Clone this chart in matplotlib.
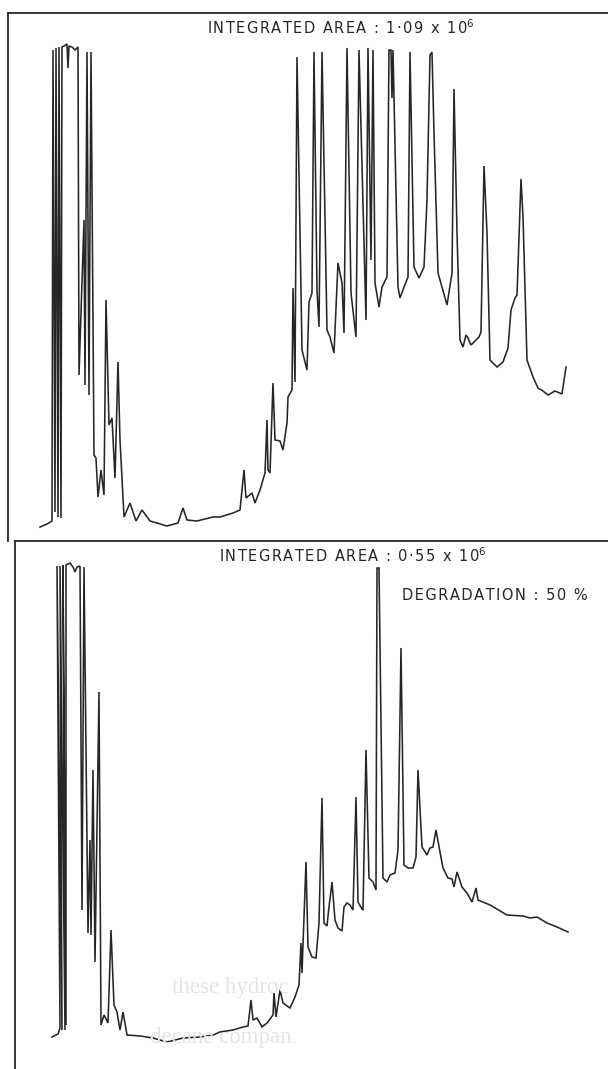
import matplotlib
matplotlib.use("Agg")
import matplotlib.pyplot as plt

# retention (min) and detector response (% of full scale), undegraded sample
t_before = [4.0, 4.7, 5.2, 5.3, 5.5, 5.6, 5.8, 5.9, 6.1, 6.2, 6.4, 6.7, 6.8, 6.9, 7.2, 7.5, 7.8,
            7.9, 8.4, 8.5, 8.7, 8.9, 9.1, 9.4, 9.6, 9.8, 10.1, 10.4, 10.6, 10.9, 11.2, 11.5,
            11.8, 12.0, 12.4, 13.0, 13.6, 14.2, 15.0, 15.7, 16.7, 17.8, 18.3, 18.7, 19.7,
            21.3, 22.0, 23.3, 24.0, 24.4, 24.6, 25.2, 25.5, 26.0, 26.5, 26.7, 26.8, 27.0,
            27.3, 27.5, 28.0, 28.3, 28.7, 28.8, 29.2, 29.3, 29.5, 29.7, 30.2, 30.7, 30.9,
            31.2, 31.4, 31.7, 31.9, 32.2, 32.7, 33.0, 33.4, 33.8, 34.2, 34.4, 34.7, 35.1,
            35.6, 35.9, 36.6, 36.8, 37.1, 37.3, 37.5, 37.9, 38.2, 38.7, 38.9, 39.1, 39.2,
            39.3, 39.8, 40.0, 40.4, 40.8, 41.0, 41.4, 41.9, 42.4, 42.7, 43.0, 43.2, 43.4,
            43.8, 44.2, 44.7, 45.2, 45.4, 45.7, 46.0, 46.3, 46.6, 46.8, 47.1, 47.9, 48.1,
            48.4, 48.7, 49.0, 49.7, 50.3, 50.8, 51.1, 51.5, 51.7, 52.1, 52.3, 52.7, 53.3,
            53.8, 54.3, 54.8, 55.5, 56.2, 56.6]
r_before = [2.6, 3.2, 3.8, 98.0, 5.6, 98.4, 4.6, 98.6, 4.4, 98.6, 98.8, 99.2, 94.4, 98.8, 98.6,
            98.0, 98.6, 33.0, 64.0, 31.0, 97.6, 29.0, 97.6, 17.0, 16.4, 8.6, 14.0, 9.0, 48.0,
            23.0, 24.4, 12.4, 35.6, 20.0, 4.6, 7.4, 3.8, 6.0, 3.8, 3.4, 2.8, 3.4, 6.4, 4.0,
            3.8, 4.6, 4.6, 5.4, 6.0, 14.0, 8.4, 9.4, 7.4, 10.0, 13.4, 24.0, 14.0, 13.4, 31.4,
            20.0, 19.8, 18.0, 23.4, 28.6, 30.0, 50.4, 31.6, 96.6, 38.0, 34.0, 47.6, 49.4,
            97.6, 50.0, 42.6, 97.6, 42.0, 40.6, 37.4, 55.4, 51.4, 41.4, 98.4, 49.4, 40.6,
            98.0, 44.0, 98.4, 56.0, 98.0, 51.4, 46.6, 50.6, 52.6, 98.0, 98.0, 88.4, 98.0,
            50.6, 48.4, 50.6, 52.6, 97.6, 54.6, 52.4, 54.6, 68.0, 97.0, 97.6, 81.4, 53.4,
            50.6, 47.0, 53.4, 90.2, 61.4, 40.0, 38.6, 41.0, 40.4, 39.0, 40.6, 41.6, 74.8,
            61.4, 36.0, 34.6, 35.6, 38.4, 46.0, 48.4, 49.0, 72.2, 64.6, 36.0, 32.6, 30.4,
            29.8, 29.0, 29.8, 29.2, 34.6]

# same oil after degradation
t_after = [5.2, 5.8, 6.0, 5.7, 6.2, 6.0, 6.5, 6.3, 6.6, 6.6, 7.0, 7.3, 7.5, 7.7, 8.0, 8.2, 8.4,
           8.8, 9.0, 9.1, 9.3, 9.5, 9.9, 10.1, 10.4, 10.8, 11.1, 11.4, 11.7, 12.0, 12.3, 12.7,
           14.0, 15.3, 16.7, 18.3, 20.0, 21.3, 22.0, 23.3, 24.3, 24.8, 25.1, 25.3, 25.7, 26.2,
           26.7, 27.3, 27.4, 27.6, 28.0, 28.3, 29.0, 29.5, 29.9, 30.1, 30.2, 30.3, 30.6, 30.8,
           31.2, 31.6, 31.9, 32.2, 32.4, 32.7, 32.9, 33.2, 33.5, 33.8, 34.2, 34.4, 34.7, 35.0,
           35.3, 35.6, 35.8, 36.2, 36.3, 36.6, 36.9, 37.3, 37.6, 37.7, 37.9, 38.3, 38.7, 39.0,
           39.5, 39.8, 40.1, 40.4, 40.8, 41.3, 41.6, 41.8, 42.2, 42.7, 43.0, 43.3, 43.6, 44.0,
           44.3, 44.8, 45.2, 45.4, 45.7, 46.2, 46.7, 47.2, 47.6, 47.8, 49.0, 50.7, 52.3, 53.0,
           53.7, 54.7, 55.7, 56.8]
r_after = [4.6, 5.2, 6.4, 98.8, 6.0, 98.8, 6.0, 99.0, 7.0, 99.0, 99.4, 98.6, 97.6, 98.6, 98.8,
           30.0, 98.6, 25.4, 44.0, 25.0, 58.0, 19.6, 73.6, 7.0, 9.0, 7.4, 26.0, 11.0, 9.6, 6.0,
           9.6, 5.0, 4.8, 4.4, 3.6, 4.4, 4.6, 5.0, 5.6, 6.0, 6.6, 6.8, 12.0, 8.0, 8.4, 6.6,
           7.4, 9.0, 13.4, 8.6, 14.0, 11.4, 10.4, 12.6, 15.0, 23.4, 17.4, 23.0, 39.6, 22.6,
           20.6, 20.4, 27.4, 52.4, 27.4, 26.8, 30.6, 35.6, 28.0, 26.4, 25.8, 30.6, 31.4, 31.0,
           30.0, 52.6, 31.6, 30.2, 30.0, 62.0, 36.4, 35.6, 34.0, 98.4, 98.4, 36.4, 35.6, 37.0,
           37.4, 42.0, 82.4, 39.0, 38.4, 38.4, 40.6, 58.0, 42.6, 41.0, 42.4, 42.6, 46.0, 41.6,
           38.4, 36.4, 36.2, 34.6, 37.6, 34.6, 33.4, 31.6, 34.4, 32.0, 31.0, 29.0, 28.8, 28.4,
           28.6, 27.4, 26.6, 25.6]

area_before = ("1·09 x 10", "6")
area_after = ("0·55 x 10", "6")
degradation = "50 %"

ink = "#262626"


def spaced(s):
    # wide lettering, as on a drafting template
    return "\u200a".join(s)


def area_label(value):
    mantissa, exponent = value
    return spaced("INTEGRATED AREA : " + mantissa) + r"$^{" + exponent + "}$"


fig = plt.figure(figsize=(6.08, 10.69), dpi=100)
fig.patch.set_facecolor("white")

ax1 = fig.add_axes([8 / 608, 528 / 1069, 599 / 608, 528 / 1069])
ax2 = fig.add_axes([15 / 608, 0, 593 / 608, 528 / 1069])

ax1.plot(t_before, r_before, color=ink, lw=1.15, solid_joinstyle="miter")
ax2.plot(t_after, r_after, color=ink, lw=1.15, solid_joinstyle="miter")

ax1.set_xlim(0.8, 60.7)
ax1.set_ylim(-0.2, 105.4)
ax2.set_xlim(1.5, 60.8)
ax2.set_ylim(-1.8, 103.8)

for ax in (ax1, ax2):
    ax.set_xticks([])
    ax.set_yticks([])
    ax.set_facecolor("none")
    for side in ("right", "bottom"):
        ax.spines[side].set_visible(False)
    for side in ("top", "left"):
        ax.spines[side].set_color(ink)
        ax.spines[side].set_linewidth(1.3)

label_kw = dict(ha="center", va="center", fontsize=10.5, color=ink)
fig.text(341 / 608, 1 - 28 / 1069, area_label(area_before), **label_kw)
fig.text(353 / 608, 1 - 556 / 1069, area_label(area_after), **label_kw)
fig.text(495 / 608, 1 - 596 / 1069, spaced("DEGRADATION : " + degradation), **label_kw)

# show-through from the reverse of the page
fig.text(172 / 608, 1 - 987 / 1069, "these hydroc", fontsize=16.5, color="#e4e4e4",
         family="Liberation Serif", va="center")
fig.text(150 / 608, 1 - 1037 / 1069, "decane compan", fontsize=16.5, color="#e4e4e4",
         family="Liberation Serif", va="center")

fig.savefig("out.png", dpi=100, facecolor="white")
